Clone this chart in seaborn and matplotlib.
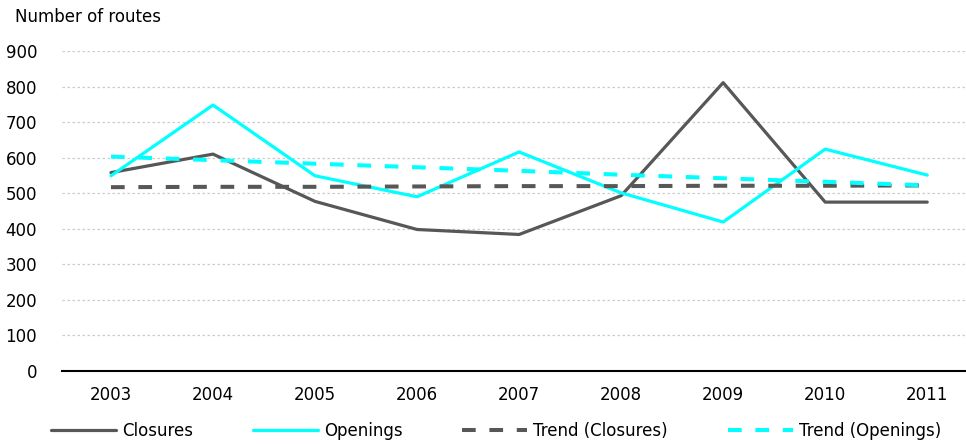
import matplotlib
matplotlib.use("Agg")
import matplotlib.pyplot as plt
import seaborn as sns
import pandas as pd

years = [2003, 2004, 2005, 2006, 2007, 2008, 2009, 2010, 2011]
closures = [558, 610, 477, 398, 384, 493, 811, 475, 475]
openings = [549, 748, 549, 490, 616, 501, 419, 624, 551]
trend_closures = [517, 518, 518, 519, 520, 520, 521, 521, 522]
trend_openings = [603, 593, 583, 573, 563, 552, 542, 532, 522]
y_ticks = [0, 100, 200, 300, 400, 500, 600, 700, 800, 900]

sns.set_theme(style="white")
plt.rcParams['font.family'] = ['DejaVu Sans']
plt.rcParams['text.color'] = 'black'

fig = plt.figure(figsize=(9.66, 4.45), dpi=100)
ax = fig.add_axes([62/966, (445-371)/445, 1 - 62/966, (371-51)/445])

gray = "#575757"
cyan = "#00FFFF"
lw = 2.3

sns.lineplot(x=years, y=closures, ax=ax, color=gray, lw=lw, label="Closures")
sns.lineplot(x=years, y=openings, ax=ax, color=cyan, lw=lw, label="Openings")
sns.lineplot(x=years, y=trend_closures, ax=ax, color=gray, lw=lw + 0.6,
             label="Trend (Closures)", linestyle=(0, (3.4, 3.4)))
sns.lineplot(x=years, y=trend_openings, ax=ax, color=cyan, lw=lw + 0.6,
             label="Trend (Openings)", linestyle=(0, (3.4, 3.4)))

ax.set_ylim(0, 900)
ax.set_xlim(2002.52, 2011.38)
ax.set_yticks(y_ticks)
ax.set_xticks(years)
ax.set_xticklabels([str(y) for y in years])
ax.yaxis.grid(True, color="#cccccc", lw=0.9, linestyle=(0, (2, 2)))
ax.xaxis.grid(False)
ax.set_axisbelow(True)
for s in ["top", "right", "left"]:
    ax.spines[s].set_visible(False)
ax.spines["bottom"].set_color("black")
ax.spines["bottom"].set_linewidth(1.5)
ax.tick_params(axis="y", length=0, pad=18, labelsize=12, colors="black")
ax.tick_params(axis="x", length=0, pad=11, labelsize=12, colors="black")
ax.set_xlabel("")
ax.set_ylabel("")

fig.text(15/966, 1 - 17/445, "Number of routes", fontsize=12, va="center",
         ha="left", color="black")

ax.legend_.remove()
handles, labels = ax.get_legend_handles_labels()
leg = fig.legend(handles, labels, loc="center", bbox_to_anchor=(496/966, 14/445),
                 ncol=4, frameon=False, fontsize=12, handlelength=3.9,
                 handletextpad=0.35, columnspacing=3.6, borderpad=0)
for t in leg.get_texts():
    t.set_color("black")

fig.savefig("out.png", dpi=100)
